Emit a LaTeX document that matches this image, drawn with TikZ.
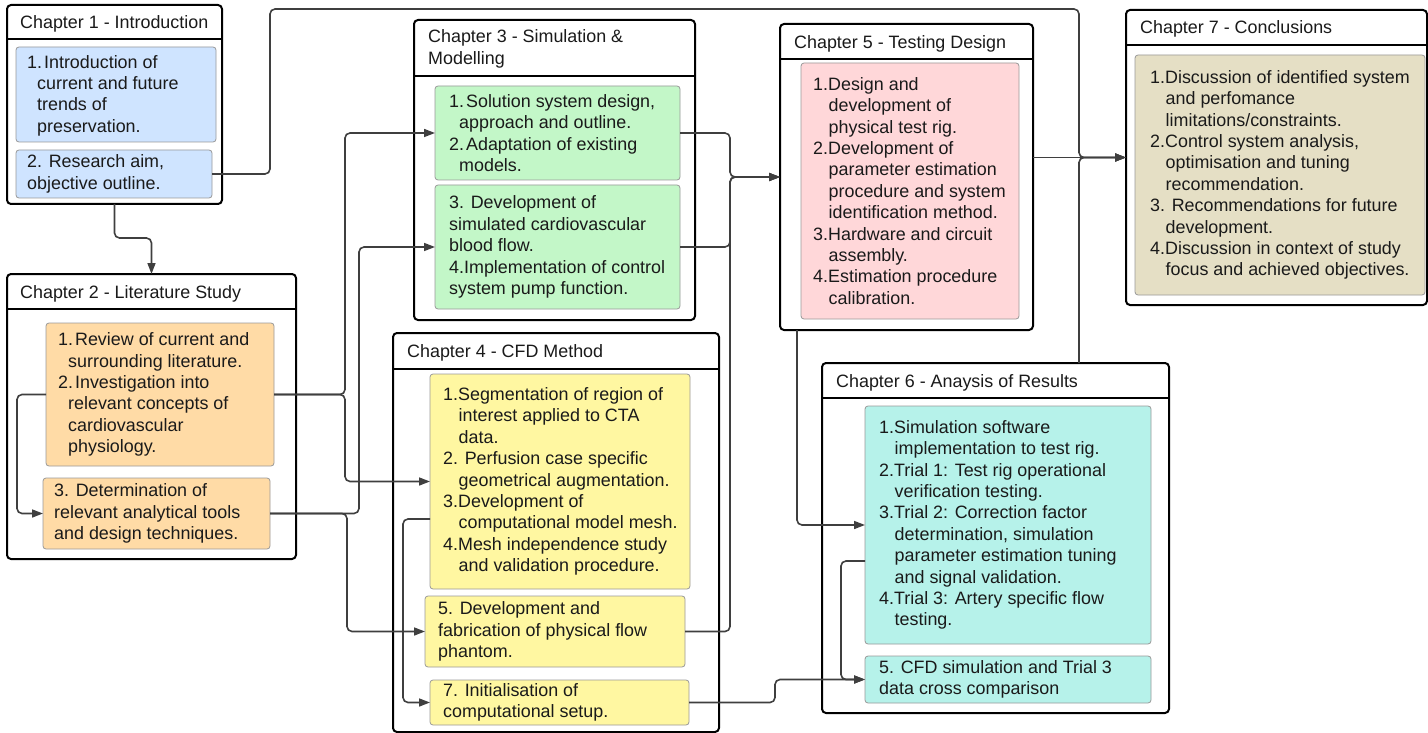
\documentclass[tikz,border=0pt]{standalone}
\usepackage{fontspec}
\setmainfont{Liberation Sans}
\usetikzlibrary{arrows.meta}
\definecolor{cblue}{HTML}{CFE4FF}
\definecolor{corange}{HTML}{FFDBA6}
\definecolor{cgreen}{HTML}{C3F7C8}
\definecolor{cyellow}{HTML}{FFF7A1}
\definecolor{cpink}{HTML}{FFD7D9}
\definecolor{ctan}{HTML}{E5DFC5}
\definecolor{ccyan}{HTML}{B6F2EA}
\definecolor{lineclr}{HTML}{3F3F3F}
\definecolor{txtclr}{HTML}{1A1A1A}
\newcommand\ia{\hspace*{10pt}}
\newcommand\ib{\hspace*{15.5pt}}
\newcommand\nb[1]{#1\kern2pt}
\tikzset{
  container/.style={draw=black, line width=2pt, rounded corners=4pt, fill=white,
    anchor=north west, inner sep=0pt, outer sep=0pt},
  sepline/.style={draw=black, line width=2pt},
  ibox/.style={draw=black!40, line width=0.8pt, rounded corners=3pt,
    anchor=north west, inner sep=0pt, outer sep=0pt},
  itext/.style={anchor=west, align=left, inner sep=0pt, text=txtclr},
  htext/.style={anchor=west, align=left, inner sep=0pt, text=txtclr},
  conn/.style={draw=lineclr, line width=1.6pt, rounded corners=5pt,
    -{Triangle[length=11pt,width=8pt]}},
}
\begin{document}
\begin{tikzpicture}[x=1pt,y=-1pt,font=\fontsize{17.9}{21.4}\selectfont]
\useasboundingbox (0,0) rectangle (1428,733);

% ---------- Chapter 1
\node[container, minimum width=215, minimum height=199] (c1) at (7,5) {};
\draw[sepline] (c1.west |- 0,39) -- (c1.east |- 0,39);
\node[htext] (h1) at (20,24) {Chapter 1 - Introduction};
\node[ibox, fill=cblue, minimum width=200, minimum height=95] (c1a) at (16,47) {};
\node[itext] (t1a) at ([xshift=11pt,yshift=-1pt]c1a.west) {\nb{1.}Introduction of\\\ia current and future\\\ia trends of\\\ia preservation.};
\node[ibox, fill=cblue, minimum width=196, minimum height=48] (c1b) at (16,150) {};
\node[itext] (t1b) at ([xshift=11pt]c1b.west) {2. Research aim,\\objective outline.};

% ---------- Chapter 2
\node[container, minimum width=289, minimum height=285] (c2) at (7,274) {};
\draw[sepline] (c2.west |- 0,309) -- (c2.east |- 0,309);
\node[htext] (h2) at (20,294) {Chapter 2 - Literature Study};
\node[ibox, fill=corange, minimum width=228, minimum height=143] (c2a) at (46,323) {};
\node[itext] (t2a) at ([xshift=12pt]c2a.west) {\nb{1.}Review of current and\\\ia surrounding literature.\\\nb{2.}Investigation into\\\ia relevant concepts of\\\ia cardiovascular\\\ia physiology.};
\node[ibox, fill=corange, minimum width=227, minimum height=71] (c2b) at (43,478) {};
\node[itext] (t2b) at ([xshift=11pt]c2b.west) {3. Determination of\\relevant analytical tools\\and design techniques.};

% ---------- Chapter 3
\node[container, minimum width=281, minimum height=300] (c3) at (414,20) {};
\draw[sepline] (c3.west |- 0,76) -- (c3.east |- 0,76);
\node[htext] (h3) at (428,49) {Chapter 3 - Simulation \&\\Modelling};
\node[ibox, fill=cgreen, minimum width=245, minimum height=94] (c3a) at (435,86) {};
\node[itext] (t3a) at ([xshift=14pt]c3a.west) {\nb{1.}Solution system design,\\\ia approach and outline.\\\nb{2.}Adaptation of existing\\\ia models.};
\node[ibox, fill=cgreen, minimum width=245, minimum height=124] (c3b) at (435,185) {};
\node[itext] (t3b) at ([xshift=14pt]c3b.west) {3. Development of\\simulated cardiovascular\\blood flow.\\4.Implementation of control\\system pump function.};

% ---------- Chapter 4
\node[container, minimum width=326, minimum height=399] (c4) at (393,333) {};
\draw[sepline] (c4.west |- 0,369) -- (c4.east |- 0,369);
\node[htext] (h4) at (407,353) {Chapter 4 - CFD Method};
\node[ibox, fill=cyellow, minimum width=260, minimum height=215] (c4a) at (430,374) {};
\node[itext] (t4a) at ([xshift=13pt]c4a.west) {1.Segmentation of region of\\\ib interest applied to CTA\\\ib data.\\2. Perfusion case specific\\\ib geometrical augmentation.\\3.Development of\\\ib computational model mesh.\\4.Mesh independence study\\\ib and validation procedure.};
\node[ibox, fill=cyellow, minimum width=260, minimum height=71] (c4b) at (425,596) {};
\node[itext] (t4b) at ([xshift=13pt]c4b.west) {5. Development and\\fabrication of physical flow\\phantom.};
\node[ibox, fill=cyellow, minimum width=259, minimum height=45] (c4c) at (430,680) {};
\node[itext] (t4c) at ([xshift=13pt]c4c.west) {7. Initialisation of\\computational setup.};

% ---------- Chapter 5
\node[container, minimum width=253, minimum height=306] (c5) at (780,24) {};
\draw[sepline] (c5.west |- 0,59) -- (c5.east |- 0,59);
\node[htext] (h5) at (794,44) {Chapter 5 - Testing Design};
\node[ibox, fill=cpink, minimum width=218, minimum height=256] (c5a) at (801,63) {};
\node[itext] (t5a) at ([xshift=12pt]c5a.west) {1.Design and\\\ib development of\\\ib physical test rig.\\2.Development of\\\ib parameter estimation\\\ib procedure and system\\\ib identification method.\\3.Hardware and circuit\\\ib assembly.\\4.Estimation procedure\\\ib calibration.};

% ---------- Chapter 6
\node[container, minimum width=347, minimum height=350] (c6) at (822,363) {};
\draw[sepline] (c6.west |- 0,398) -- (c6.east |- 0,398);
\node[htext] (h6) at (836,383) {Chapter 6 - Anaysis of Results};
\node[ibox, fill=ccyan, minimum width=286, minimum height=238] (c6a) at (865,406) {};
\node[itext] (t6a) at ([xshift=14pt]c6a.west) {1.Simulation software\\\ib implementation to test rig.\\2.Trial 1: Test rig operational\\\ib verification testing.\\3.Trial 2: Correction factor\\\ib determination, simulation\\\ib parameter estimation tuning\\\ib and signal validation.\\4.Trial 3: Artery specific flow\\\ib testing.};
\node[ibox, fill=ccyan, minimum width=286, minimum height=47] (c6b) at (865,656) {};
\node[itext] (t6b) at ([xshift=14pt]c6b.west) {5. CFD simulation and Trial 3\\data cross comparison};

% ---------- Chapter 7
\node[container, minimum width=301, minimum height=295] (c7) at (1126,10) {};
\draw[sepline] (c7.west |- 0,45) -- (c7.east |- 0,45);
\node[htext] (h7) at (1140,29) {Chapter 7 - Conclusions};
\node[ibox, fill=ctan, minimum width=290, minimum height=240] (c7a) at (1135,55) {};
\node[itext] (t7a) at ([xshift=15pt]c7a.west) {1.Discussion of identified system\\\ib and perfomance\\\ib limitations/constraints.\\2.Control system analysis,\\\ib optimisation and tuning\\\ib recommendation.\\3. Recommendations for future\\\ib development.\\4.Discussion in context of study\\\ib focus and achieved objectives.};

% ---------- connectors
\coordinate (j7) at (1079,157.5);
\draw[conn] (c1.south) -- ++(0,34) -| (c2.north);
\draw[conn] (c1b.east) -| ++(58,-165) -| (j7) -- (c7.west);
\draw[conn] (c5.east |- c7.west) -- (c7.west);
\draw[conn] (c6.north -| j7) -- (j7) -- (c7.west);

\draw[conn] (c2a.west) -- ++(-29,0) |- (c2b.west);
\draw[conn] (c2a.east) -- ++(71,0) |- (c3a.west);
\draw[conn] (c2a.east) -- ++(71,0) |- (c4a.west);
\draw[conn] (c2b.east) -- ++(89,0) |- (c3b.west);
\draw[conn] (c2b.east) -- ++(77,0) |- (c4b.west);

\draw[conn] (c3a.east) -- ++(50,0) |- (c5.west);
\draw[conn] (c3b.east) -- ++(50,0) |- (c5.west);
\draw[conn] (c4b.east) -- ++(45,0) |- (c5.west);

\draw[conn] ([xshift=17pt]c5.south west) |- (c6a.west);
\draw[conn] ([yshift=-37.5pt]c4a.west) -- ++(-27,0) |- (c4c.west);
\draw[conn] (c4c.east) -- ++(86,0) |- (c6b.west);
\draw[conn] ([yshift=-36pt]c6a.west) -- ++(-24,0) |- (c6b.west);
\end{tikzpicture}
\end{document}
